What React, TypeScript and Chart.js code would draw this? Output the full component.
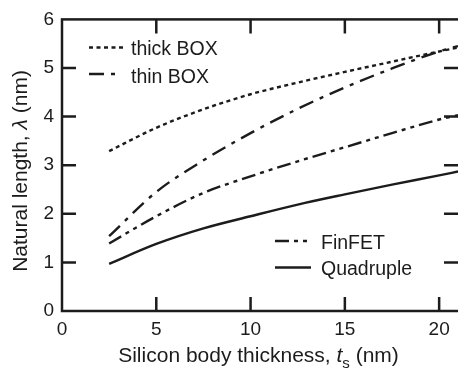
import React, { useEffect, useRef } from "react";
import { Chart, registerables } from "chart.js";

Chart.register(...registerables);

// ---- data ----
const thickness = [2.5, 5, 7.5, 10, 12.5, 15, 17.5, 20, 21];
const thickBOX = [3.29, 3.77, 4.15, 4.46, 4.7, 4.92, 5.13, 5.34, 5.42];
const thinBOX = [1.54, 2.45, 3.1, 3.66, 4.16, 4.6, 4.99, 5.34, 5.45];
const finFET = [1.39, 1.95, 2.43, 2.77, 3.08, 3.37, 3.66, 3.94, 4.03];
const quadruple = [0.97, 1.38, 1.7, 1.95, 2.19, 2.4, 2.6, 2.79, 2.87];
const seriesNames = ["thick BOX", "thin BOX", "FinFET", "Quadruple"];
const xTicks = [0, 5, 10, 15, 20];
const yTicks = [0, 1, 2, 3, 4, 5, 6];

const FONT = "'Liberation Sans', Arial, Helvetica, sans-serif";
const INK = "#1c1c1c";

const dashes = [[4, 3.5], [15, 7, 4, 7], [14, 5, 4, 5, 4, 5], []];

const toPoints = (ys: number[]) => ys.map((v, i) => ({ x: thickness[i], y: v }));

const framePlugin = {
  id: "frame",
  afterDraw(chart: any) {
    const { ctx, chartArea: a, scales } = chart;
    const sx = scales.x;
    const sy = scales.y;
    ctx.save();
    ctx.strokeStyle = INK;
    ctx.fillStyle = INK;
    ctx.setLineDash([]);
    ctx.lineWidth = 2.5;
    ctx.lineJoin = "miter";
    ctx.strokeRect(a.left, a.top, a.right - a.left + 6, a.bottom - a.top);
    const TL = 14;
    ctx.beginPath();
    xTicks.forEach((v) => {
      if (v === 0) return;
      const px = sx.getPixelForValue(v);
      ctx.moveTo(px, a.bottom);
      ctx.lineTo(px, a.bottom - TL);
      ctx.moveTo(px, a.top);
      ctx.lineTo(px, a.top + TL);
    });
    yTicks.forEach((v) => {
      if (v === 0 || v === 6) return;
      const py = sy.getPixelForValue(v);
      ctx.moveTo(a.left, py);
      ctx.lineTo(a.left + TL, py);
      ctx.moveTo(a.right, py);
      ctx.lineTo(a.right - TL, py);
    });
    ctx.stroke();

    // legends
    const ds = chart.data.datasets;
    const legend = [
      { i: 0, x0: 89, x1: 125, y: 47.5, tx: 131, ty: 55 },
      { i: 1, x0: 89, x1: 119, y: 74, tx: 131, ty: 82.5 },
      { i: 2, x0: 275, x1: 311, y: 241, tx: 321, ty: 249 },
      { i: 3, x0: 275, x1: 311, y: 267.5, tx: 321, ty: 275 },
    ];
    ctx.font = `19.5px ${FONT}`;
    ctx.textBaseline = "alphabetic";
    ctx.textAlign = "left";
    legend.forEach((l) => {
      const d = ds[l.i];
      ctx.lineWidth = d.borderWidth;
      ctx.setLineDash(d.borderDash || []);
      ctx.beginPath();
      ctx.moveTo(l.x0, l.y);
      ctx.lineTo(l.x1, l.y);
      ctx.stroke();
      ctx.fillText(d.label, l.tx, l.ty);
    });
    ctx.setLineDash([]);

    // x axis title
    const normal = `21px ${FONT}`;
    const italic = `italic 21px ${FONT}`;
    const sub = `15px ${FONT}`;
    const xParts = [
      { t: "Silicon body thickness, ", f: normal, dy: 0 },
      { t: "t", f: italic, dy: 0 },
      { t: "s", f: sub, dy: 6 },
      { t: " (nm)", f: normal, dy: 0 },
    ];
    let total = 0;
    xParts.forEach((p) => {
      ctx.font = p.f;
      total += ctx.measureText(p.t).width;
    });
    let cx = (a.left + a.right) / 2 - 1.5 - total / 2;
    const by = 361.5;
    xParts.forEach((p) => {
      ctx.font = p.f;
      ctx.fillText(p.t, cx, by + p.dy);
      cx += ctx.measureText(p.t).width;
    });

    // y axis title (rotated)
    const yParts = [
      { t: "Natural length, ", f: normal },
      { t: "\u03bb", f: italic },
      { t: " (nm)", f: normal },
    ];
    total = 0;
    yParts.forEach((p) => {
      ctx.font = p.f;
      total += ctx.measureText(p.t).width;
    });
    ctx.save();
    ctx.translate(26.5, 171);
    ctx.rotate(-Math.PI / 2);
    let ux = -total / 2;
    yParts.forEach((p) => {
      ctx.font = p.f;
      ctx.fillText(p.t, ux, 0);
      ux += ctx.measureText(p.t).width;
    });
    ctx.restore();
    ctx.restore();
  },
};

export default function App() {
  const ref = useRef<HTMLCanvasElement | null>(null);
  useEffect(() => {
    if (!ref.current) return;
    const series = [thickBOX, thinBOX, finFET, quadruple];
    const chart = new Chart(ref.current, {
      type: "line",
      data: {
        datasets: series.map((s, i) => ({
          label: seriesNames[i],
          data: toPoints(s),
          borderColor: INK,
          borderWidth: 2.4,
          borderDash: dashes[i],
          pointRadius: 0,
          fill: false,
          cubicInterpolationMode: "monotone" as const,
          borderCapStyle: "butt" as const,
        })),
      },
      options: {
        responsive: false,
        animation: false,
        events: [],
        layout: { padding: { top: 12, right: 0, left: 0, bottom: 0 } },
        plugins: { legend: { display: false }, tooltip: { enabled: false } },
        scales: {
          x: {
            type: "linear",
            min: 0,
            max: 21,
            grid: { display: false, drawTicks: false },
            border: { display: false },
            afterBuildTicks: (s: any) => {
              s.ticks = xTicks.map((v) => ({ value: v }));
            },
            afterFit: (s: any) => {
              s.height = 57;
            },
            ticks: {
              color: INK,
              padding: 7,
              maxRotation: 0,
              font: { family: FONT, size: 19 },
            },
          },
          y: {
            type: "linear",
            min: 0,
            max: 6,
            grid: { display: false, drawTicks: false },
            border: { display: false },
            afterBuildTicks: (s: any) => {
              s.ticks = yTicks.map((v) => ({ value: v }));
            },
            afterFit: (s: any) => {
              s.width = 62;
            },
            ticks: {
              color: INK,
              padding: 8,
              font: { family: FONT, size: 19 },
            },
          },
        },
      },
      plugins: [framePlugin],
    });
    return () => chart.destroy();
  }, []);
  return (
    <div style={{ position: "fixed", left: 0, top: 0, width: 458, height: 368, background: "#fff" }}>
      <canvas ref={ref} width={458} height={368} style={{ display: "block" }} />
    </div>
  );
}
